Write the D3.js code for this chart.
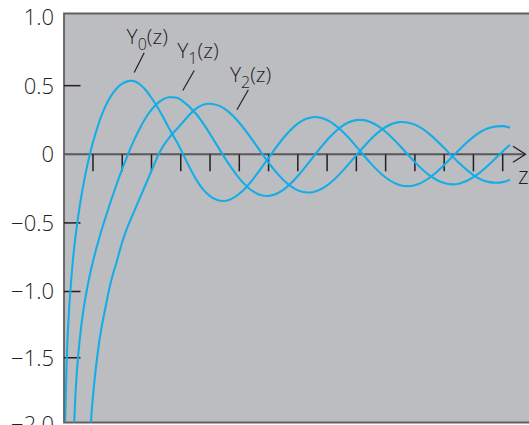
<!DOCTYPE html>
<html>
<head>
<meta charset="utf-8">
<script src="https://cdn.jsdelivr.net/npm/d3@7"></script>
<style>
  html, body { margin: 0; padding: 0; background: #fff; }
  svg { display: block; font-family: "Open Sans", "Liberation Sans", sans-serif; }
</style>
</head>
<body>
<svg id="chart" width="529" height="425"></svg>
<script>
// z values where the curves were read
const zs = [0.05, 0.1, 0.15, 0.2, 0.3, 0.4, 0.5, 0.6, 0.7, 0.8, 0.85, 0.9, 1.0,
  1.2, 1.4, 1.6, 1.8, 2.0, 2.2, 2.4, 2.6, 2.8, 3.0, 3.2, 3.4, 3.6, 3.8, 4.0,
  4.5, 5.0, 5.5, 6.0, 6.5, 7.0, 7.5, 8.0, 8.5, 9.0, 9.5, 10, 10.5, 11, 11.5,
  12, 12.5, 13, 13.5, 14, 14.5, 15, 15.25];

const y0 = [-1.979, -1.534, -1.271, -1.081, -0.807, -0.606, -0.445, -0.309, -0.191, -0.087, -0.040, 0.006, 0.088,
  0.228, 0.338, 0.420, 0.478, 0.515, 0.533, 0.533, 0.510, 0.468, 0.410, 0.345, 0.270, 0.190, 0.115, 0.036,
  -0.175, -0.305, -0.340, -0.288, -0.173, -0.026, 0.117, 0.224, 0.270, 0.250, 0.171, 0.056, -0.068, -0.169, -0.225,
  -0.225, -0.171, -0.078, 0.030, 0.127, 0.190, 0.205, 0.194];

const y1 = [null, null, null, null, -2.293, -1.781, -1.471, -1.260, -1.103, -0.978, -0.924, -0.873, -0.781,
  -0.621, -0.479, -0.348, -0.224, -0.107, 0.002, 0.101, 0.188, 0.264, 0.325, 0.371, 0.401, 0.415, 0.414, 0.398,
  0.301, 0.148, -0.024, -0.175, -0.274, -0.303, -0.259, -0.158, -0.026, 0.104, 0.204, 0.249, 0.234, 0.164, 0.058,
  -0.057, -0.154, -0.210, -0.214, -0.167, -0.081, 0.021, 0.070];

const y2 = [null, null, null, null, null, null, null, null, null, null, -2.30, -2.09, -1.79,
  -1.40, -1.15, -0.94, -0.79, -0.64, -0.52, -0.42, -0.32, -0.22, -0.12, -0.02, 0.06, 0.12, 0.17, 0.216,
  0.329, 0.368, 0.331, 0.230, 0.089, -0.061, -0.186, -0.263, -0.276, -0.227, -0.128, -0.006, 0.112, 0.199, 0.235,
  0.216, 0.147, 0.046, -0.062, -0.151, -0.201, -0.203, -0.185];

const seriesNames = ["0", "1", "2"];
const xTicks = d3.range(1, 16);
const yTicks = [1.0, 0.5, 0, -0.5, -1.0, -1.5, -2.0];

// where the curve labels sit, in chart units (z, value)
const labelAt = [[2.15, 0.80], [3.88, 0.70], [5.68, 0.53]];
const leaderFrom = [[2.75, 0.74], [4.46, 0.61], [6.31, 0.47]];
const leaderTo = [[2.41, 0.595], [4.07, 0.465], [5.92, 0.325]];

const svg = d3.select("#chart");
const W = 529, H = 425;
const box = { left: 64, top: 13.5, bottom: 422.5 };

const x = d3.scaleLinear().domain([0, 15]).range([63.7, 502.7]);
const y = d3.scaleLinear().domain([-2, -1, 0, 1]).range([424, 291.5, 154.3, 17]);

const ink = "#231f20";
const blue = "#16ade6";

svg.append("rect")
  .attr("x", box.left).attr("y", box.top)
  .attr("width", W - box.left + 5).attr("height", box.bottom - box.top)
  .attr("fill", "#bcbdc1");

svg.append("defs").append("clipPath").attr("id", "clip")
  .append("rect")
  .attr("x", box.left + 1).attr("y", box.top)
  .attr("width", W - box.left).attr("height", box.bottom - box.top);

// frame
svg.append("path")
  .attr("d", `M${W + 2},${box.top}H${box.left}V${box.bottom}H${W + 2}`)
  .attr("fill", "none").attr("stroke", "#5f6062").attr("stroke-width", 1.8);

// z axis line with open arrow
const y0px = y(0);
svg.append("line")
  .attr("x1", box.left).attr("x2", 525)
  .attr("y1", y0px).attr("y2", y0px)
  .attr("stroke", "#58595b").attr("stroke-width", 2);
svg.append("path")
  .attr("d", `M513,${y0px - 8}L525.5,${y0px}L513,${y0px + 8}`)
  .attr("fill", "none").attr("stroke", ink).attr("stroke-width", 1.3);

svg.append("g")
  .selectAll("line")
  .data(xTicks)
  .join("line")
  .attr("x1", d => x(d)).attr("x2", d => x(d))
  .attr("y1", y0px).attr("y2", y0px + 17)
  .attr("stroke", ink).attr("stroke-width", 1.5);

svg.append("g")
  .selectAll("line")
  .data(yTicks.filter(d => d !== 0 && d > -2 && d < 1))
  .join("line")
  .attr("x1", box.left).attr("x2", box.left + 16.5)
  .attr("y1", d => y(d)).attr("y2", d => y(d))
  .attr("stroke", ink).attr("stroke-width", 1.5);

const fmt = d => d === 0 ? "0" : d3.format(".1f")(d).replace("-", "\u2212");
svg.append("g")
  .selectAll("text")
  .data(yTicks)
  .join("text")
  .attr("x", 54)
  .attr("y", d => y(d))
  .attr("dy", "0.36em")
  .attr("text-anchor", "end")
  .attr("font-size", 22)
  .attr("font-weight", 300)
  .attr("fill", ink)
  .text(fmt);

svg.append("text")
  .attr("x", 518).attr("y", 184)
  .attr("font-size", 23).attr("font-weight", 300)
  .attr("fill", ink)
  .text("z");

// curves
const line = d3.line()
  .defined(d => d[1] != null)
  .x(d => x(d[0]))
  .y(d => y(d[1]))
  .curve(d3.curveNatural);

const curves = [y0, y1, y2].map(vals => zs.map((z, i) => [z, vals[i]]));

svg.append("g")
  .attr("clip-path", "url(#clip)")
  .selectAll("path")
  .data(curves)
  .join("path")
  .attr("d", d => line(d.filter(p => p[1] != null)))
  .attr("fill", "none")
  .attr("stroke", blue)
  .attr("stroke-width", 2.1);

// labels and leaders
const labels = svg.append("g").attr("fill", ink).attr("font-size", 21).attr("font-weight", 300);
seriesNames.forEach((n, i) => {
  const t = labels.append("text")
    .attr("x", x(labelAt[i][0]))
    .attr("y", y(labelAt[i][1]));
  t.append("tspan").text("Y");
  t.append("tspan").attr("font-size", 16).attr("dy", 6).text(n);
  t.append("tspan").attr("dy", -6).text("(z)");
  svg.append("line")
    .attr("x1", x(leaderFrom[i][0])).attr("y1", y(leaderFrom[i][1]))
    .attr("x2", x(leaderTo[i][0])).attr("y2", y(leaderTo[i][1]))
    .attr("stroke", ink).attr("stroke-width", 1.2);
});
</script>
</body>
</html>
